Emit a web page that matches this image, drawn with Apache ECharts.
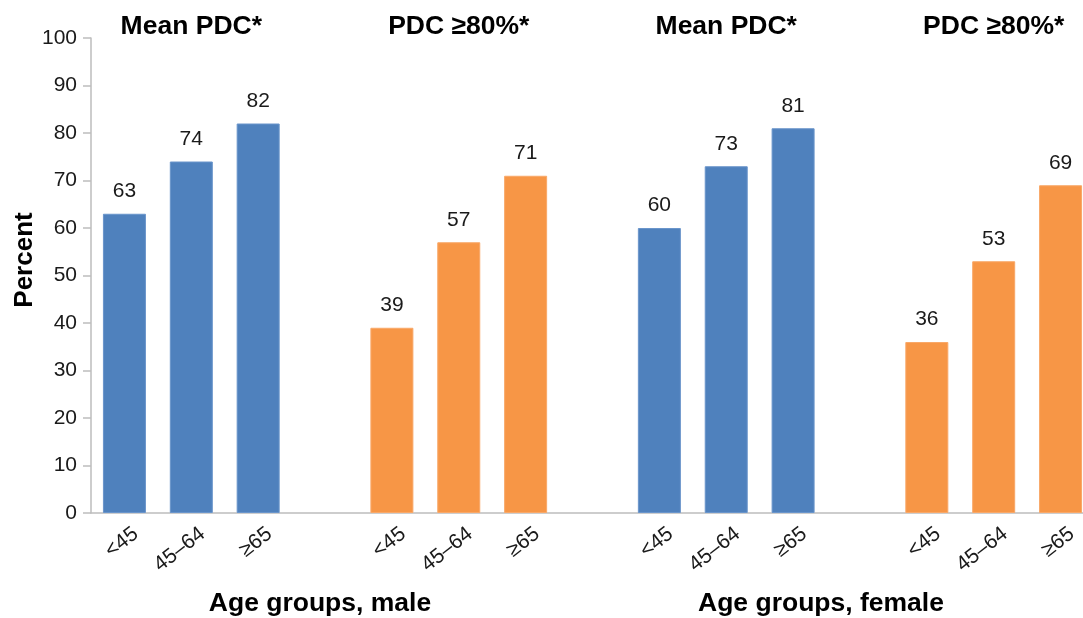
<!DOCTYPE html>
<html>
<head>
<meta charset="utf-8">
<script src="https://cdn.jsdelivr.net/npm/echarts@6/dist/echarts.min.js"></script>
<style>html,body{margin:0;padding:0;background:#fff;overflow:hidden;width:1083px;height:618px}#c{width:1094px;height:618px}</style>
</head>
<body>
<div id="c"></div>
<script>
const ageGroups = ['<45', '45\u201364', '\u226565'];
const meanPdcMale = [63, 74, 82];
const pdc80Male = [39, 57, 71];
const meanPdcFemale = [60, 73, 81];
const pdc80Female = [36, 53, 69];
const yTicks = [0, 10, 20, 30, 40, 50, 60, 70, 80, 90, 100];
const groupTitles = ['Mean PDC*', 'PDC \u226580%*', 'Mean PDC*', 'PDC \u226580%*'];

const groups = [
  {vals: meanPdcMale, s: 0},
  {vals: pdc80Male, s: 1},
  {vals: meanPdcFemale, s: 0},
  {vals: pdc80Female, s: 1}
];
const categories = [];
const blue = [], orange = [];
const middleIdx = [];
groups.forEach((g, gi) => {
  if (gi > 0) { categories.push(''); blue.push('-'); orange.push('-'); }
  g.vals.forEach((v, i) => {
    if (i === 1) middleIdx.push(categories.length);
    categories.push(ageGroups[i]);
    blue.push(g.s === 0 ? v : '-');
    orange.push(g.s === 1 ? v : '-');
  });
});

const chart = echarts.init(document.getElementById('c'));
const FONT = 'Liberation Sans, Arial, sans-serif';
const labelCfg = {show: true, position: 'top', distance: 12, fontSize: 21, color: '#1a1a1a', fontFamily: FONT};
chart.setOption({
  animation: false,
  grid: {left: 91, top: 38, bottom: 105, right: 0, containLabel: false},
  xAxis: {
    type: 'category',
    data: categories,
    axisLine: {lineStyle: {color: '#bdbdbd', width: 1.5}},
    axisTick: {show: false},
    axisLabel: {interval: 0, rotate: 38, fontSize: 21, color: '#1a1a1a', fontFamily: FONT,
      margin: 4, verticalAlign: 'top', padding: [8, 0, 0, 0]}
  },
  yAxis: {
    type: 'value', min: 0, max: 100, interval: 10,
    axisLine: {show: true, lineStyle: {color: '#bdbdbd', width: 1.5}},
    axisTick: {show: true, length: 8, lineStyle: {color: '#bdbdbd', width: 1.5}},
    splitLine: {show: false},
    axisLabel: {fontSize: 21, color: '#1a1a1a', fontFamily: FONT, margin: 14,
      formatter: v => yTicks.includes(v) ? String(v) : ''}
  },
  series: [
    {name: 'Mean PDC', type: 'bar', data: blue, barWidth: 43, barGap: '-100%',
     itemStyle: {color: '#4f81bd', borderColor: '#6a95cb', borderWidth: 1}, label: labelCfg},
    {name: 'PDC \u226580%', type: 'bar', data: orange, barWidth: 43, barGap: '-100%',
     itemStyle: {color: '#f79646', borderColor: '#f9a868', borderWidth: 1}, label: labelCfg}
  ]
});

const graphics = [];
middleIdx.forEach((ci, gi) => {
  const x = chart.convertToPixel({xAxisIndex: 0}, ci);
  graphics.push({type: 'text', x: x, y: 27, style: {text: groupTitles[gi], font: 'bold 26.5px ' + FONT, fill: '#000', align: 'center', verticalAlign: 'middle'}});
});
graphics.push({type: 'text', x: 25, y: 260, rotation: Math.PI / 2, style: {text: 'Percent', font: 'bold 26px ' + FONT, fill: '#000', align: 'center', verticalAlign: 'middle'}});
graphics.push({type: 'text', x: 320, y: 604, style: {text: 'Age groups, male', font: 'bold 26.5px ' + FONT, fill: '#000', align: 'center', verticalAlign: 'middle'}});
graphics.push({type: 'text', x: 821, y: 604, style: {text: 'Age groups, female', font: 'bold 26.5px ' + FONT, fill: '#000', align: 'center', verticalAlign: 'middle'}});
chart.setOption({graphic: graphics});
</script>
</body>
</html>
